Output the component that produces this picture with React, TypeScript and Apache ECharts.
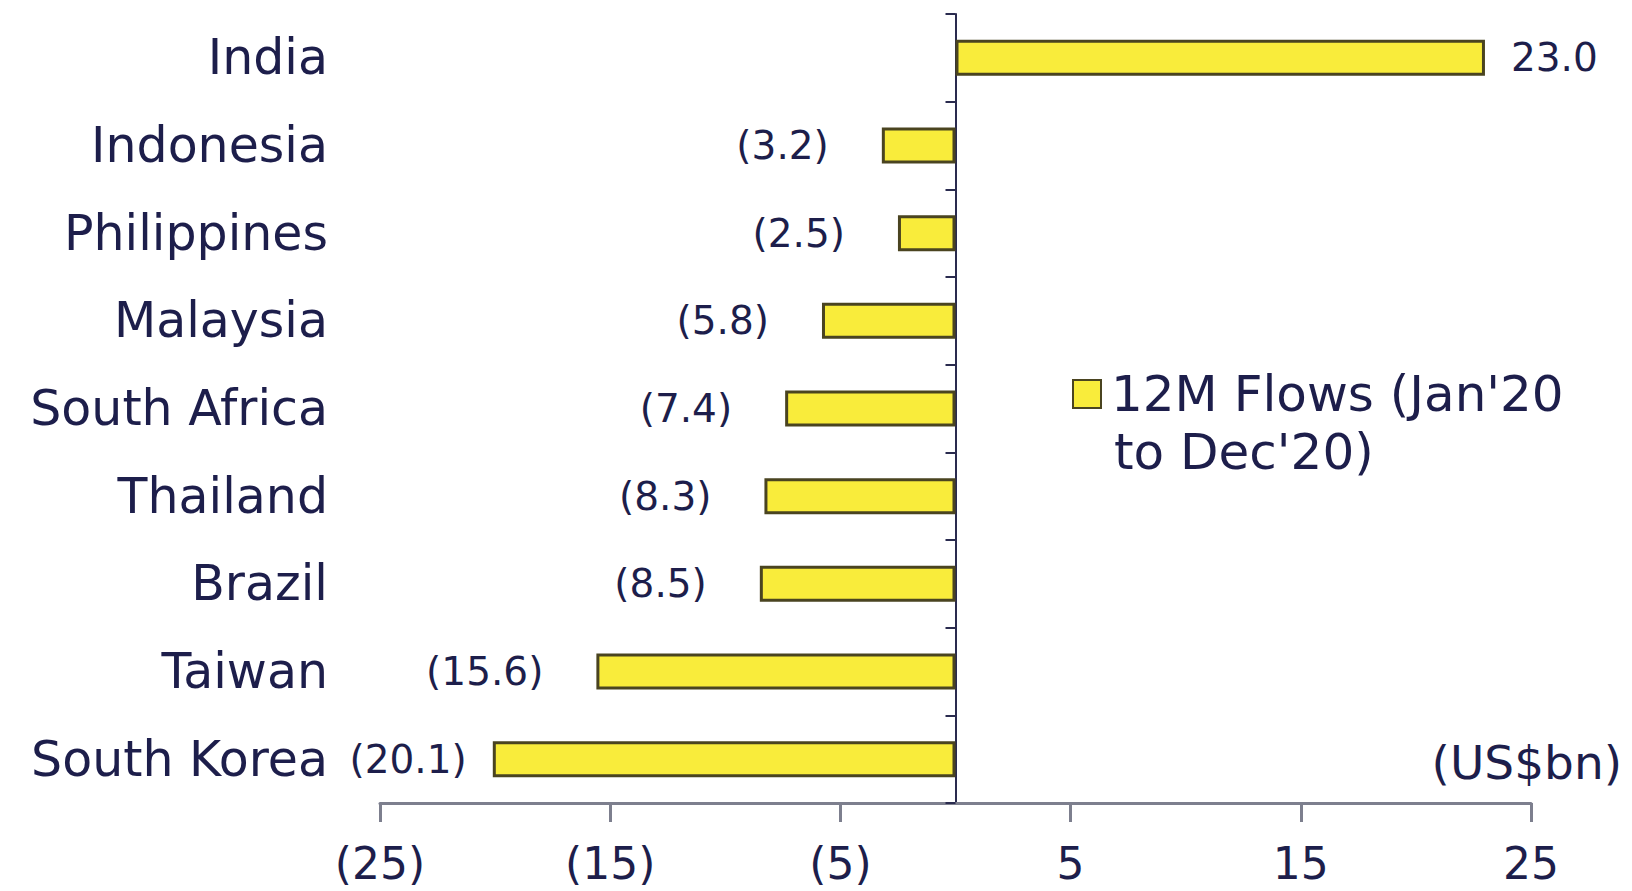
import React, { useEffect, useRef } from "react";
import * as echarts from "echarts";

const categories = [
  "India",
  "Indonesia",
  "Philippines",
  "Malaysia",
  "South Africa",
  "Thailand",
  "Brazil",
  "Taiwan",
  "South Korea",
];
const flows = [23.0, -3.2, -2.5, -5.8, -7.4, -8.3, -8.5, -15.6, -20.1];
const tickValues = [-25, -15, -5, 5, 15, 25];
const seriesName = "12M Flows (Jan'20 to Dec'20)";
const legendLine1 = "12M Flows (Jan'20";
const legendLine2 = "to Dec'20)";
const unitLabel = "(US$bn)";

const NAVY = "#1d1e4b";
const FONT = "DejaVu Sans";

const fmtTick = (v: number) => (v < 0 ? `(${Math.abs(v)})` : `${v}`);
const fmtVal = (v: number) =>
  v < 0 ? `(${Math.abs(v).toFixed(1)})` : v.toFixed(1);

export default function App() {
  const ref = useRef<HTMLDivElement>(null);
  useEffect(() => {
    if (!ref.current) return;
    const chart = echarts.init(ref.current, null, { renderer: "svg" });
    const data = flows.map((v) => ({
      value: v,
      label: {
        position: v < 0 ? "left" : "right",
        distance: v < 0 && v > -18 ? 53 : 26,
      },
    }));
    chart.setOption({
      animation: false,
      backgroundColor: "#ffffff",
      grid: { left: 380, right: 101, top: 14, bottom: 88, containLabel: false },
      legend: {
        show: true,
        left: 1067,
        top: 364,
        itemWidth: 28,
        itemHeight: 28,
        icon: "rect",
        formatter: () => legendLine1,
        textStyle: { fontFamily: FONT, fontSize: 50, color: NAVY, padding: [0, 0, 0, 5] },
        data: [seriesName],
      },
      xAxis: {
        type: "value",
        min: -25,
        max: 25,
        splitLine: { show: false },
        axisLine: { show: true, onZero: false, lineStyle: { color: "#7d7f8e", width: 3 } },
        axisTick: {
          show: true,
          length: 19,
          customValues: tickValues,
          lineStyle: { color: "#7d7f8e", width: 3 },
        },
        axisLabel: {
          customValues: tickValues,
          formatter: fmtTick,
          margin: 38,
          fontFamily: FONT,
          fontSize: 44,
          color: NAVY,
        },
      },
      yAxis: [
        {
          type: "category",
          data: categories,
          inverse: true,
          position: "left",
          axisLine: { show: false, onZero: false },
          axisTick: { show: false },
          axisLabel: {
            margin: 52,
            fontFamily: FONT,
            fontSize: 49,
            color: NAVY,
          },
        },
        {
          type: "category",
          data: categories,
          inverse: true,
          position: "left",
          axisLine: { show: true, onZero: true, lineStyle: { color: "#2a2b4f", width: 2 } },
          axisTick: { show: true, length: 10, lineStyle: { color: "#2a2b4f", width: 2 } },
          axisLabel: { show: false },
        },
      ],
      graphic: [
        {
          type: "text",
          left: 1114,
          top: 427,
          style: { text: legendLine2, font: `50px "${FONT}"`, fill: NAVY },
        },
        {
          type: "text",
          right: 10,
          top: 739,
          style: { text: unitLabel, font: `47px "${FONT}"`, fill: NAVY },
        },
      ],
      series: [
        {
          name: seriesName,
          type: "bar",
          yAxisIndex: 0,
          barWidth: 36,
          data,
          itemStyle: { color: "#f9ec3b", borderColor: "#4a4420", borderWidth: 3 },
          label: {
            show: true,
            formatter: (p: any) => fmtVal(p.value),
            fontFamily: FONT,
            fontSize: 39,
            color: NAVY,
          },
        },
      ],
    });
    return () => chart.dispose();
  }, []);
  return (
    <div
      ref={ref}
      style={{ position: "fixed", left: 0, top: 0, width: 1632, height: 891 }}
    />
  );
}
